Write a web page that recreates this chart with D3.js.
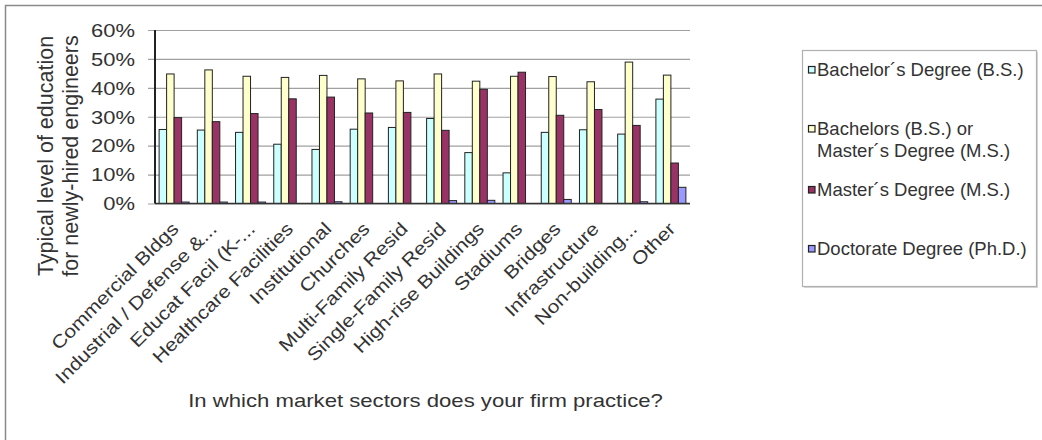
<!DOCTYPE html>
<html>
<head>
<meta charset="utf-8">
<script src="https://cdn.jsdelivr.net/npm/d3@7"></script>
<style>
  html, body { margin: 0; padding: 0; background: #fff; }
  svg { display: block; font-family: "Liberation Sans", Arial, sans-serif; }
</style>
</head>
<body>
<svg id="chart" width="1042" height="440"></svg>
<script>
// Market sectors (x categories)
const categories = [
  "Commercial Bldgs", "Industrial / Defense &...", "Educat Facil (K-...",
  "Healthcare Facilities", "Institutional", "Churches", "Multi-Family Resid",
  "Single-Family Resid", "High-rise Buildings", "Stadiums", "Bridges",
  "Infrastructure", "Non-building...", "Other"
];

// Share of respondents (%) per education level
const bachelors = [25.6, 25.4, 24.6, 20.5, 18.7, 25.7, 26.3, 29.4, 17.6, 10.6, 24.6, 25.5, 24.0, 36.1];
const bsOrMs    = [44.8, 46.2, 44.0, 43.6, 44.3, 43.1, 42.4, 44.8, 42.3, 44.0, 43.9, 42.1, 48.9, 44.4];
const masters   = [29.7, 28.3, 31.1, 36.2, 36.8, 31.3, 31.5, 25.3, 39.5, 45.4, 30.5, 32.5, 27.0, 14.0];
const doctorate = [0.5, 0.5, 0.5, 0.0, 0.6, 0.0, 0.0, 1.0, 1.1, 0.0, 1.4, 0.0, 0.6, 5.6];

const seriesNames = [
  ["Bachelor\u00b4s Degree (B.S.)"],
  ["Bachelors (B.S.) or", "Master\u00b4s Degree (M.S.)"],
  ["Master\u00b4s Degree (M.S.)"],
  ["Doctorate Degree (Ph.D.)"]
];
const seriesColors = ["#ccffff", "#ffffcc", "#993366", "#9999ff"];
const yTicks = [0, 10, 20, 30, 40, 50, 60];

const yTitle = ["Typical level of education", "for newly-hired engineers"];
const xTitle = "In which market sectors does your firm practice?";

const series = [bachelors, bsOrMs, masters, doctorate];

const svg = d3.select("#chart");

// outer chart frame (runs off the right and bottom edges)
svg.append("rect")
  .attr("x", 5.5).attr("y", 5.5)
  .attr("width", 1200).attr("height", 600)
  .attr("fill", "#fff").attr("stroke", "#8a8a8a").attr("stroke-width", 1.5);

const plot = { left: 155, right: 690, top: 30, bottom: 203.5 };

const x = d3.scaleBand()
  .domain(categories)
  .range([plot.left, plot.right])
  .paddingInner(0.215)
  .paddingOuter(0.1075);

const xs = d3.scaleBand()
  .domain(d3.range(series.length))
  .range([0, x.bandwidth()]);

const y = d3.scaleLinear().domain([0, 60]).range([plot.bottom, plot.top]);

// gridlines with short outer ticks
const yAxis = d3.axisLeft(y)
  .tickValues(yTicks)
  .tickSize(-(plot.right - plot.left))
  .tickSizeOuter(0)
  .tickFormat(d => d + "%");

const gy = svg.append("g")
  .attr("transform", `translate(${plot.left},0)`)
  .call(yAxis);
gy.select(".domain").remove();
gy.selectAll(".tick line")
  .attr("x1", -7)
  .attr("stroke", "#a0a0a0").attr("stroke-width", 1.2);
gy.selectAll(".tick text")
  .attr("x", 0).attr("dy", 0)
  .attr("dominant-baseline", "central")
  .attr("text-anchor", "end")
  .attr("transform", "translate(-20,0) scale(1.22,1)")
  .attr("font-size", 18)
  .attr("font-family", "Liberation Sans, Arial, sans-serif")
  .attr("fill", "#333");

// bars
const groups = svg.append("g").selectAll("g")
  .data(categories)
  .join("g")
  .attr("transform", d => `translate(${x(d)},0)`);

groups.selectAll("rect")
  .data((d, i) => series.map((s, k) => ({ k, v: s[i] })))
  .join("rect")
  .attr("x", d => xs(d.k))
  .attr("y", d => y(d.v))
  .attr("width", xs.bandwidth())
  .attr("height", d => y(0) - y(d.v))
  .attr("fill", d => seriesColors[d.k])
  .attr("stroke", "#222")
  .attr("stroke-width", 1);

// axis lines
svg.append("line")
  .attr("x1", plot.left).attr("x2", plot.right)
  .attr("y1", y(0)).attr("y2", y(0))
  .attr("stroke", "#333").attr("stroke-width", 1.5);
svg.append("line")
  .attr("x1", plot.left).attr("x2", plot.left)
  .attr("y1", y(60)).attr("y2", y(0))
  .attr("stroke", "#222").attr("stroke-width", 2);

// rotated category labels
svg.append("g").selectAll("text")
  .data(categories)
  .join("text")
  .attr("transform", d => `translate(${x(d) + x.bandwidth() / 2 + 1},${plot.bottom + 22}) rotate(-45) scale(1.16,1)`)
  .attr("text-anchor", "end")
  .attr("dy", "0.35em")
  .attr("font-size", 18.2)
  .attr("fill", "#333")
  .text(d => d);

// axis titles
const yt = svg.append("text")
  .attr("transform", "translate(0,156) rotate(-90)")
  .attr("text-anchor", "middle")
  .attr("font-size", 21.5)
  .attr("fill", "#333");
yt.selectAll("tspan")
  .data(yTitle)
  .join("tspan")
  .attr("x", 0)
  .attr("y", (d, i) => 53 + i * 24.5)
  .text(d => d);

svg.append("text")
  .attr("transform", `translate(${(plot.left + plot.right) / 2 + 3},407) scale(1.19,1)`)
  .attr("text-anchor", "middle")
  .attr("font-size", 18.6)
  .attr("fill", "#333")
  .text(xTitle);

// legend
const legend = svg.append("g");
legend.append("rect")
  .attr("x", 804).attr("y", 52).attr("width", 234).attr("height", 236)
  .attr("fill", "#d8d8d8");
legend.append("rect")
  .attr("x", 802.5).attr("y", 50.5).attr("width", 234).attr("height", 236)
  .attr("fill", "#fff").attr("stroke", "#b0b0b0").attr("stroke-width", 1.2);

const legendBaselines = [[76], [135, 157], [196], [255]];
seriesNames.forEach((lines, k) => {
  const base = legendBaselines[k];
  legend.append("rect")
    .attr("x", 808.5).attr("y", base[0] - 9.5)
    .attr("width", 6.5).attr("height", 6.5)
    .attr("fill", seriesColors[k])
    .attr("stroke", "#222").attr("stroke-width", 1.2);
  lines.forEach((t, j) => {
    legend.append("text")
      .attr("x", 817).attr("y", base[j])
      .attr("font-size", 18.5)
      .attr("fill", "#333")
      .text(t);
  });
});
</script>
</body>
</html>
